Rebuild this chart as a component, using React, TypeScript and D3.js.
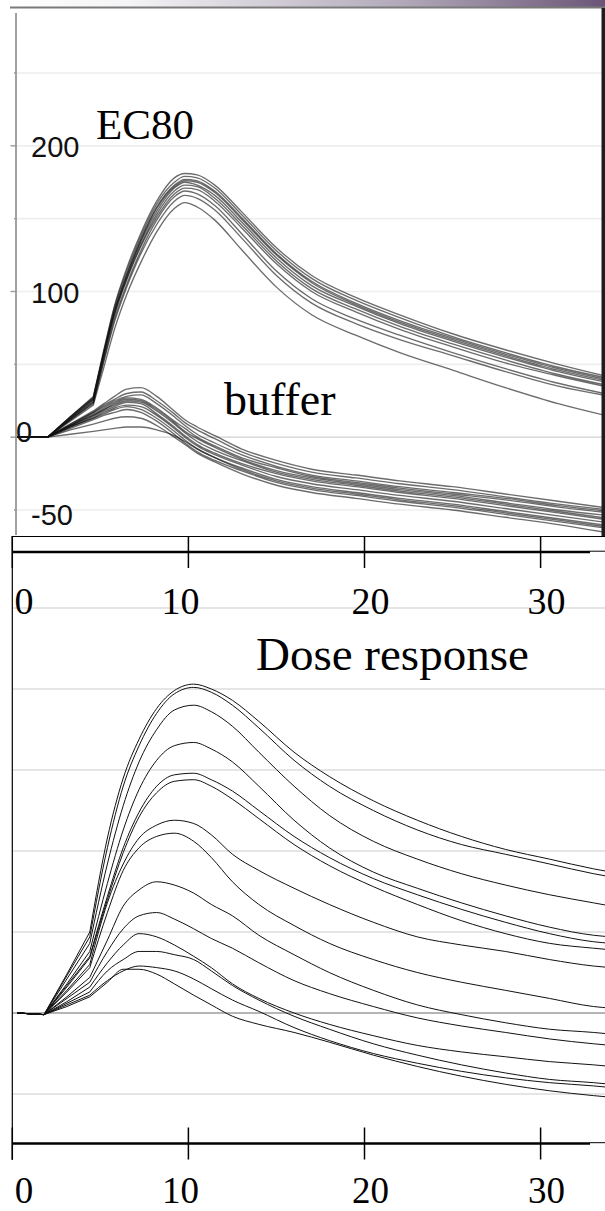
import React from "react";
import * as d3 from "d3";

// ---------- data ----------
const X_TICKS = [0, 10, 20, 30];
const TOP_GRID = [250, 200, 150, 100, 50, -50];
const TOP_Y_LABELS = ["200", "100", "0", "-50"];
const BOT_GRID = [250, 200, 150, 100, 50, -50];

// top panel sample times (index 3 = injection kink)
const T_TOP = [0.3, 2.0, 3.3, 4.6, 5.2, 5.8, 6.5, 7.3, 8.2, 9.2, 9.8, 10.5, 11.5, 13, 15, 17, 19.5, 22, 25, 28, 31, 34];

// EC80 traces
const ec1 = [0, 0, 14, 28, 60, 90, 116, 140, 162, 178, 181, 180, 173, 155, 130, 111, 96, 84, 71, 60, 50, 41];
const ec2 = [0, 0, 14, 27, 59, 89, 114, 138, 160, 175, 179, 178, 171, 153, 128, 109, 94, 82, 69, 58, 48, 40];
const ec3 = [0, 0, 13, 26, 58, 87, 112, 136, 158, 173, 177, 176, 169, 151, 126, 107, 92, 80, 68, 57, 47, 39];
const ec4 = [0, 0, 13, 25, 57, 86, 111, 135, 157, 172, 176, 175, 168, 150, 125, 106, 91, 79, 67, 56, 46, 38];
const ec5 = [0, 0, 14, 27, 58, 86, 110, 134, 155, 171, 175, 173, 166, 148, 123, 104, 90, 78, 66, 55, 45, 37];
const ec6 = [0, 0, 12, 24, 55, 84, 109, 132, 153, 169, 173, 172, 164, 146, 121, 102, 88, 76, 64, 53, 43, 35];
const ec7 = [0, 0, 13, 26, 56, 84, 108, 131, 151, 167, 171, 170, 162, 144, 119, 100, 86, 74, 62, 51, 42, 34];
const ec8 = [0, 0, 12, 23, 53, 81, 105, 128, 149, 165, 169, 167, 159, 140, 114, 95, 81, 70, 58, 47, 37, 29];
const ec9 = [0, 0, 12, 24, 52, 79, 103, 126, 146, 162, 166, 164, 156, 137, 111, 92, 78, 67, 56, 45, 35, 28];
const ec10 = [0, 0, 11, 22, 48, 74, 98, 120, 141, 157, 161, 158, 149, 129, 103, 84, 70, 58, 46, 34, 23, 14];

// buffer traces
const bu1 = [0, 0, 9, 18, 23, 28, 33, 34, 28, 18, 12, 7, 1, -8, -16, -22, -26, -30, -34, -39, -44, -49];
const bu2 = [0, 0, 9, 17, 22, 26, 30, 31, 25, 16, 10, 5, -1, -10, -18, -24, -28, -32, -36, -41, -46, -50];
const bu3 = [0, 0, 8, 17, 21, 25, 28, 29, 23, 14, 8, 2, -4, -12, -20, -26, -30, -34, -38, -42, -47, -51];
const bu4 = [0, 0, 8, 16, 20, 24, 27, 26, 20, 11, 6, 0, -6, -14, -21, -27, -31, -35, -39, -43, -48, -52];
const bu5 = [0, 0, 8, 15, 19, 23, 26, 25, 19, 10, 4, -1, -7, -15, -23, -28, -32, -36, -40, -45, -50, -54];
const bu6 = [0, 0, 8, 15, 19, 22, 25, 24, 18, 9, 3, -3, -9, -16, -24, -29, -33, -37, -41, -46, -51, -56];
const bu7 = [0, 0, 7, 14, 18, 21, 24, 23, 16, 7, 1, -5, -11, -18, -25, -30, -34, -38, -42, -47, -52, -57];
const bu8 = [0, 0, 7, 13, 17, 20, 22, 21, 15, 6, 0, -6, -12, -19, -27, -32, -36, -40, -44, -49, -54, -59];
const bu9 = [0, 0, 7, 13, 16, 19, 21, 19, 13, 4, -2, -8, -14, -21, -29, -34, -38, -42, -46, -51, -56, -61];
const bu10 = [0, 0, 6, 12, 15, 17, 19, 17, 11, 2, -4, -10, -16, -23, -31, -36, -40, -44, -48, -53, -58, -63];
const bu11 = [0, 0, 5, 9, 11, 13, 14, 13, 8, 0, -5, -11, -17, -25, -33, -38, -42, -46, -50, -55, -60, -66];
const bu12 = [0, 0, 2, 4, 5, 6, 7, 7, 5, 1, -3, -8, -14, -22, -30, -35, -39, -43, -47, -52, -57, -62];

// bottom panel sample times (index 3 = injection kink)
const T_BOT = [0.3, 1.8, 3.1, 4.4, 5.4, 6.3, 7.2, 8.2, 9.2, 10.3, 11.3, 12.5, 14, 16, 18, 20.5, 23, 25.5, 28, 30.5, 33, 34];

// dose response traces
const dr1 = [0, -1, 24, 50, 108, 145, 169, 188, 199, 203, 200, 193, 180, 161, 146, 131, 119, 109, 101, 95, 89, 87];
const dr2 = [0, -1, 23, 47, 102, 140, 165, 185, 197, 201, 198, 190, 176, 156, 140, 125, 113, 104, 98, 92, 86, 84];
const dr3 = [0, -1, 21, 43, 92, 128, 155, 175, 187, 190, 186, 177, 161, 140, 122, 106, 95, 86, 79, 73, 68, 66];
const dr4 = [0, -1, 18, 38, 80, 113, 138, 156, 165, 167, 163, 155, 140, 119, 102, 87, 77, 68, 60, 53, 48, 47];
const dr5 = [0, -1, 17, 35, 72, 102, 124, 140, 147, 148, 144, 137, 125, 109, 96, 83, 73, 64, 56, 49, 44, 43];
const dr6 = [0, -1, 16, 34, 70, 99, 121, 136, 143, 144, 140, 132, 120, 104, 91, 78, 67, 57, 49, 43, 40, 39];
const dr7 = [0, -1, 14, 30, 68, 92, 108, 116, 119, 117, 110, 98, 88, 77, 67, 56, 47, 42, 38, 33, 29, 28];
const dr8 = [0, -1, 13, 28, 62, 88, 102, 109, 111, 106, 96, 81, 67, 54, 43, 33, 25, 19, 14, 9, 4, 3];
const dr9 = [0, -1, 10, 22, 45, 66, 76, 81, 79, 74, 67, 60, 48, 36, 25, 14, 5, -1, -6, -10, -12, -13];
const dr10 = [0, -1, 9, 19, 38, 52, 60, 62, 58, 52, 46, 40, 31, 20, 12, 4, -3, -8, -12, -16, -19, -20];
const dr11 = [0, -1, 7, 16, 31, 42, 49, 47, 42, 35, 28, 18, 9, 0, -7, -14, -20, -24, -27, -30, -32, -33];
const dr12 = [0, -1, 6, 13, 26, 33, 38, 38, 36, 33, 26, 17, 8, -2, -10, -19, -26, -32, -37, -41, -43, -44];
const dr13 = [0, -1, 5, 11, 20, 26, 29, 28, 26, 21, 15, 8, 1, -9, -17, -25, -31, -36, -40, -43, -45, -46];
const dr14 = [0, -1, 4, 10, 19, 27, 27, 24, 18, 11, 5, -2, -7, -12, -18, -26, -33, -39, -44, -48, -51, -52];

const EC80 = [ec1, ec2, ec3, ec4, ec5, ec6, ec7, ec8, ec9, ec10];
const BUFFER = [bu1, bu2, bu3, bu4, bu5, bu6, bu7, bu8, bu9, bu10, bu11, bu12];
const DOSE = [dr1, dr2, dr3, dr4, dr5, dr6, dr7, dr8, dr9, dr10, dr11, dr12, dr13, dr14];
const KINK = 3;

// ---------- layout ----------
const W = 605;
const H = 1211;

const x = d3.scaleLinear().domain([0, 30]).range([12.3, 540.6]);
const yTop = d3.scaleLinear().domain([-50, 250]).range([510, 73]);
const yBot = d3.scaleLinear().domain([-50, 250]).range([1094, 608]);

const serif = "'Liberation Serif', 'Times New Roman', Times, serif";
const sans = "'Liberation Sans', Arial, sans-serif";

// straight segments up to the injection kink, smooth afterwards
function pathFor(ts: number[], vs: number[], ys: d3.ScaleLinear<number, number>) {
  const pts: [number, number][] = vs.map((v, i) => [x(ts[i]), ys(v)]);
  const head = d3.line().curve(d3.curveLinear)(pts.slice(0, KINK + 1)) || "";
  const tail = d3.line().curve(d3.curveMonotoneX)(pts.slice(KINK)) || "";
  return head + "L" + tail.slice(1);
}

function labelDx(v: number) {
  if (v === 0) return 11.7;
  if (v === 10) return -8;
  return 6;
}

function XAxis({ y, labelY, fs }: { y: number; labelY: number; fs: number }) {
  return (
    <g>
      <line x1={x(0)} x2={590} y1={y} y2={y} stroke="#000" strokeWidth={2.6} />
      <line x1={590} x2={605} y1={y - 0.8} y2={y - 0.8} stroke="#000" strokeWidth={1} />
      {X_TICKS.map((t) => (
        <line key={"t" + t} x1={x(t)} x2={x(t)} y1={y - 16} y2={y + 16} stroke="#000" strokeWidth={1.5} />
      ))}
      {X_TICKS.map((t) => (
        <text
          key={"l" + t}
          x={x(t) + labelDx(t)}
          y={labelY}
          textAnchor="middle"
          fontFamily={serif}
          fontSize={fs}
          fill="#000"
        >
          {t}
        </text>
      ))}
    </g>
  );
}

export default function App() {
  const topLabelPos = (s: string) => {
    const v = +s;
    if (v === 0) return { x: 16, y: yTop(v) + 5 };
    if (v === -50) return { x: 31, y: yTop(v) + 15 };
    return { x: 31, y: yTop(v) + 11 };
  };

  return (
    <svg
      width={W}
      height={H}
      viewBox={`0 0 ${W} ${H}`}
      style={{ position: "absolute", left: 0, top: 0, background: "#fff" }}
    >
      <defs>
        <linearGradient id="titlebar" x1="0" x2="1" y1="0" y2="0">
          <stop offset="0" stopColor="#ffffff" />
          <stop offset="0.2" stopColor="#f4f3f5" />
          <stop offset="0.66" stopColor="#b1a9b9" />
          <stop offset="1" stopColor="#6b5577" />
        </linearGradient>
        <clipPath id="clipTop">
          <rect x={16} y={8} width={586} height={528} />
        </clipPath>
        <clipPath id="clipBot">
          <rect x={12.5} y={537} width={593} height={606} />
        </clipPath>
      </defs>

      <rect x={0} y={0} width={W} height={H} fill="#fff" />

      {/* ---------- top panel (screenshot frame) ---------- */}
      <rect x={10} y={0} width={595} height={7} fill="url(#titlebar)" />
      <line x1={10} x2={605} y1={7.5} y2={7.5} stroke="#7a7a7a" strokeWidth={2} />

      {TOP_GRID.map((g) => (
        <line key={"tg" + g} x1={16} x2={602} y1={yTop(g)} y2={yTop(g)} stroke="#eeeeee" strokeWidth={1.6} />
      ))}
      <line x1={16} x2={602} y1={yTop(0)} y2={yTop(0)} stroke="#cfcfcf" strokeWidth={1.4} />

      <line x1={16} x2={16} y1={13} y2={535} stroke="#8a8a8a" strokeWidth={1.6} />
      {TOP_GRID.concat([0]).map((g) => (
        <line
          key={"tk" + g}
          x1={g % 100 === 0 ? 10.5 : 14}
          x2={16}
          y1={yTop(g)}
          y2={yTop(g)}
          stroke="#9a9a9a"
          strokeWidth={1.4}
        />
      ))}

      {TOP_Y_LABELS.map((s) => {
        const p = topLabelPos(s);
        return (
          <text key={"yl" + s} x={p.x} y={p.y} fontFamily={sans} fontSize={29} fill="#111">
            {s}
          </text>
        );
      })}

      <g clipPath="url(#clipTop)">
        {BUFFER.map((vs, i) => (
          <path
            key={"b" + i}
            d={pathFor(T_TOP, vs, yTop)}
            fill="none"
            stroke="#111"
            strokeOpacity={0.62}
            strokeWidth={1.35}
          />
        ))}
        {EC80.map((vs, i) => (
          <path
            key={"e" + i}
            d={pathFor(T_TOP, vs, yTop)}
            fill="none"
            stroke="#111"
            strokeOpacity={0.62}
            strokeWidth={1.35}
          />
        ))}
      </g>

      <rect x={601.5} y={8} width={3.5} height={528} fill="#1e1e1e" />

      <text x={96} y={139} fontFamily={serif} fontSize={43} fill="#000">
        EC80
      </text>
      <text x={224} y={415} fontFamily={serif} fontSize={46} fill="#000">
        buffer
      </text>

      {/* ---------- bottom panel ---------- */}
      {BOT_GRID.map((g) => (
        <line key={"bg" + g} x1={12} x2={605} y1={yBot(g)} y2={yBot(g)} stroke="#dcdcdc" strokeWidth={1.3} />
      ))}
      <line x1={12} x2={605} y1={yBot(0)} y2={yBot(0)} stroke="#9c9c9c" strokeWidth={1.3} />

      <line x1={12} x2={605} y1={536.5} y2={536.5} stroke="#000" strokeWidth={1} />
      <line x1={x(0)} x2={x(0)} y1={536} y2={1160} stroke="#000" strokeWidth={1.2} />

      <XAxis y={552} labelY={614} fs={38} />

      <g clipPath="url(#clipBot)">
        {DOSE.map((vs, i) => (
          <path
            key={"d" + i}
            d={pathFor(T_BOT, vs, yBot)}
            fill="none"
            stroke="#111"
            strokeWidth={1}
          />
        ))}
      </g>

      <text x={256} y={670} fontFamily={serif} fontSize={47} fill="#000">
        Dose response
      </text>

      <XAxis y={1143.5} labelY={1203} fs={37} />
    </svg>
  );
}
